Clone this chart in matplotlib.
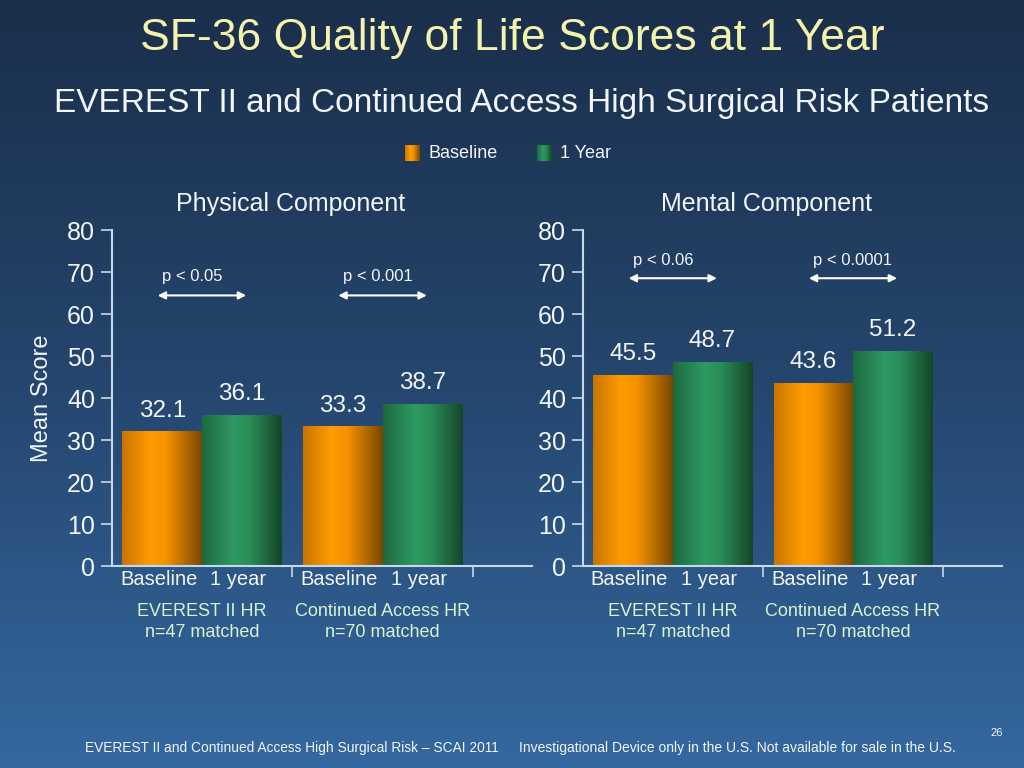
import numpy as np
import matplotlib
matplotlib.use("Agg")
import matplotlib.pyplot as plt
from matplotlib import font_manager
from matplotlib.colors import LinearSegmentedColormap

# 数据
panel_titles = ["Physical Component", "Mental Component"]
group_labels = ["EVEREST II HR\nn=47 matched", "Continued Access HR\nn=70 matched"]
bar_labels = ["Baseline", "1 year"]
baseline_scores = [[32.1, 33.3], [45.5, 43.6]]
year1_scores = [[36.1, 38.7], [48.7, 51.2]]
p_values = [["p < 0.05", "p < 0.001"], ["p < 0.06", "p < 0.0001"]]
y_ticks = [0, 10, 20, 30, 40, 50, 60, 70, 80]

names = {f.name for f in font_manager.fontManager.ttflist}
NARROW = "Liberation Sans Narrow" if "Liberation Sans Narrow" in names else "Liberation Sans"
SANS = "Liberation Sans"
WHITE = "#f2f6fa"

fig = plt.figure(figsize=(10.24, 7.68), dpi=100)

# 背景渐变
bg = fig.add_axes([0, 0, 1, 1], zorder=-10)
bg_cmap = LinearSegmentedColormap.from_list("bg", ["#1a2f4b", "#25466e", "#3468a0"])
bg.imshow(np.linspace(0, 1, 256).reshape(-1, 1), aspect="auto", cmap=bg_cmap,
          extent=[0, 1, 0, 1])
bg.axis("off")

orange_cmap = LinearSegmentedColormap.from_list(
    "orange", [(0, "#c87400"), (0.35, "#ff9c00"), (0.55, "#f59300"), (1, "#7a4800")])
green_cmap = LinearSegmentedColormap.from_list(
    "green", [(0, "#1d6a40"), (0.4, "#2e9a62"), (0.6, "#2a8c58"), (1, "#154628")])
grad = np.linspace(0, 1, 128).reshape(1, -1)


def shade_bars(ax, bars, cmap):
    """给柱子加圆柱形的横向渐变"""
    for b in bars:
        x0, y0 = b.get_x(), b.get_y()
        w, h = b.get_width(), b.get_height()
        im = ax.imshow(grad, cmap=cmap, aspect="auto",
                       extent=[x0, x0 + w, y0, y0 + h], zorder=2)
        im.set_clip_path(b)
        b.set_facecolor("none")


ax_pos = [[0.109, 0.263, 0.411, 0.437], [0.569, 0.263, 0.410, 0.437]]
title_x = [0.425, 0.437]
arrow_y = [64.5, 68.6]
p_text_y = [69.0, 72.9]
half = 0.22
width = 0.44

for k in range(2):
    ax = fig.add_axes(ax_pos[k])
    ax.set_facecolor("none")
    x = np.arange(len(group_labels))
    b1 = ax.bar(x - half, baseline_scores[k], width, zorder=2)
    b2 = ax.bar(x + half, year1_scores[k], width, zorder=2)
    shade_bars(ax, b1, orange_cmap)
    shade_bars(ax, b2, green_cmap)

    for bars in (b1, b2):
        for b in bars:
            ax.annotate(f"{b.get_height():.1f}",
                        (b.get_x() + b.get_width() / 2, b.get_height()),
                        xytext=(0, 7), textcoords="offset points",
                        ha="center", va="bottom", color=WHITE,
                        fontsize=17.5, family=NARROW)

    # p值和双向箭头
    for i in range(len(group_labels)):
        ax.annotate("", xy=(i - 0.245, arrow_y[k]), xytext=(i + 0.245, arrow_y[k]),
                    arrowprops=dict(arrowstyle="<|-|>", color="white", lw=1.5,
                                    mutation_scale=11, shrinkA=0, shrinkB=0))
        ax.text(i - 0.22, p_text_y[k], p_values[k][i], ha="left", va="center",
                color=WHITE, fontsize=12, family=SANS)
        ax.annotate(group_labels[i], (i, 0), xycoords=("data", "axes fraction"),
                    xytext=(0, -40), textcoords="offset points",
                    ha="center", va="center", color="#d8f2d2",
                    fontsize=13, family=SANS, linespacing=1.3)

    ax.set_xlim(-0.5, 1.83)
    ax.set_ylim(0, 80)
    ax.set_yticks(y_ticks)
    ax.set_yticklabels([str(t) for t in y_ticks], family=NARROW, fontsize=18, color=WHITE)
    ax.set_xticks([0.5, 1.5])
    ax.set_xticklabels([])
    ax.set_xticks(np.concatenate([x - half - 0.02, x + half - 0.02]), minor=True)
    ax.set_xticklabels(bar_labels[:1] * len(x) + bar_labels[1:] * len(x),
                       minor=True, family=SANS, fontsize=14.5, color=WHITE)
    ax.tick_params(axis="x", which="minor", length=0, pad=3)
    ax.tick_params(axis="x", which="major", length=8, width=1.2, color="#c8d8ea")
    ax.tick_params(axis="y", length=8, width=1.2, color="#c8d8ea", pad=4)
    for side in ("top", "right"):
        ax.spines[side].set_visible(False)
    for side in ("left", "bottom"):
        ax.spines[side].set_color("#c8d8ea")
        ax.spines[side].set_linewidth(1.5)
    ax.set_title(panel_titles[k], color=WHITE, fontsize=18, family=SANS, pad=14,
                 x=title_x[k])
    if k == 0:
        ax.set_ylabel("Mean Score", color=WHITE, fontsize=17, family=NARROW, labelpad=10)

# 标题
fig.text(0.5, 0.950, "SF-36 Quality of Life Scores at 1 Year", ha="center", va="center",
         color="#f4f3ae", fontsize=32, family=NARROW)
fig.text(0.509, 0.865, "EVEREST II and Continued Access High Surgical Risk Patients",
         ha="center", va="center", color=WHITE, fontsize=24, family=NARROW)

# 图例
legend_ax = fig.add_axes([0, 0, 1, 1], zorder=5)
legend_ax.axis("off")
for lx, cmap, label in [(405, orange_cmap, "Baseline"), (537, green_cmap, "1 Year")]:
    legend_ax.imshow(grad, cmap=cmap, aspect="auto", extent=[lx, lx + 15, 161, 145])
    legend_ax.text(lx + 23, 153, label, ha="left", va="center", color=WHITE,
                   fontsize=13, family=SANS)
legend_ax.set_xlim(0, 1024)
legend_ax.set_ylim(768, 0)

# 页脚
fig.text(85 / 1024, 1 - 748 / 768,
         "EVEREST II and Continued Access High Surgical Risk \u2013 SCAI 2011",
         ha="left", va="center", color=WHITE, fontsize=9.9, family=NARROW)
fig.text(519 / 1024, 1 - 748 / 768,
         "Investigational Device only in the U.S. Not available for sale in the U.S.",
         ha="left", va="center", color=WHITE, fontsize=10, family=NARROW)
fig.text(997 / 1024, 1 - 733 / 768, "26", ha="center", va="center",
         color=WHITE, fontsize=8, family=NARROW)

fig.savefig("out.png", dpi=100)
